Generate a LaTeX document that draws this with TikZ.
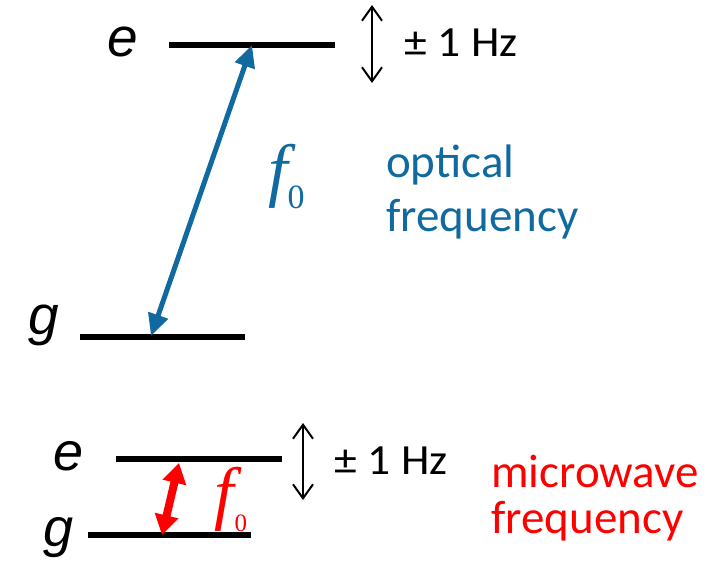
\documentclass[tikz,border=0pt]{standalone}
\usepackage{fontspec}
\setmainfont{Carlito}
\newfontfamily\arialfont{Liberation Sans}
\newfontfamily\serifont{Liberation Serif}
\usetikzlibrary{arrows.meta}
\definecolor{optblue}{RGB}{16,106,160}
\definecolor{mwred}{RGB}{255,0,0}
\newcommand{\hzlabel}{\scalebox{1.06}[1]{\fontsize{43}{43}\selectfont ±\hspace{10pt}1\hspace{10pt}Hz}}
\tikzset{
  level/.style={line width=6pt},
  statelbl/.style={inner sep=0pt, anchor=base, font=\arialfont\itshape\fontsize{55}{55}\selectfont},
  hzlbl/.style={inner sep=0pt, anchor=base west},
  spread/.style={line width=2pt, {Straight Barb[length=14pt,width=20pt]}-{Straight Barb[length=14pt,width=20pt]}},
  optarrow/.style={draw=optblue, line width=5pt, {Triangle[length=22pt,width=20pt]}-{Triangle[length=22pt,width=20pt]}},
  mwarrow/.style={draw=mwred, line width=8pt, {Triangle[length=20pt,width=23pt]}-{Triangle[length=20pt,width=23pt]}},
  bluetxt/.style={inner sep=0pt, anchor=base west, text=optblue, font=\fontsize{47}{47}\selectfont},
  redtxt/.style={inner sep=0pt, anchor=base west, text=mwred, font=\fontsize{47}{47}\selectfont},
  flbl/.style={inner sep=0pt, anchor=base west, font=\serifont},
}
\begin{document}
\begin{tikzpicture}[x=1pt,y=-1pt]
\useasboundingbox (0,0) rectangle (725,560);
% ---- optical ----
\coordinate (eTL) at (169,45);
\coordinate (eTR) at (335,45);
\coordinate (gTL) at (80,337);
\coordinate (gTR) at (245,337);
\draw[level] (eTL) -- (eTR);
\draw[level] (gTL) -- (gTR);
\node[statelbl] (eTop) at (123,56) {e};
\node[statelbl] (gTop) at (44,334) {g};
\coordinate (optUp) at (252,45);
\coordinate (optDn) at (151,336);
\draw[optarrow] (optDn) -- (optUp);
\node[flbl, text=optblue] (fTop) at (268,193)
  {\fontsize{70}{70}\selectfont\itshape f\upshape\raisebox{-15pt}{\fontsize{34}{34}\selectfont 0}};
\coordinate (sTopA) at (372,5);
\coordinate (sTopB) at (372,83);
\draw[spread] (sTopA) -- (sTopB);
\node[hzlbl] (hzTop) at (404,56) {\hzlabel};
\node[bluetxt] (opt1) at (386,177) {optical};
\node[bluetxt] (opt2) at (386,231) {frequency};
% ---- microwave ----
\coordinate (eBL) at (116,459);
\coordinate (eBR) at (282,459);
\coordinate (gBL) at (88,535);
\coordinate (gBR) at (251,535);
\draw[level] (eBL) -- (eBR);
\draw[level] (gBL) -- (gBR);
\node[statelbl,font=\arialfont\itshape\fontsize{54}{54}\selectfont] (eBot) at (69,470) {e};
\node[statelbl,font=\arialfont\itshape\fontsize{54}{54}\selectfont] (gBot) at (59,546) {g};
\coordinate (mwUp) at (179,463);
\coordinate (mwDn) at (162,535);
\draw[mwarrow] (mwDn) -- (mwUp);
\node[flbl, text=mwred] (fBot) at (214,516)
  {\fontsize{70}{70}\selectfont\itshape f\upshape\kern1pt\raisebox{-15pt}{\fontsize{25}{25}\selectfont 0}};
\coordinate (sBotA) at (303,423);
\coordinate (sBotB) at (303,500);
\draw[spread] (sBotA) -- (sBotB);
\node[hzlbl] (hzBot) at (334,474) {\hzlabel};
\node[redtxt] (mw1) at (491,487) {microwave};
\node[redtxt] (mw2) at (491,533) {frequency};
\end{tikzpicture}
\end{document}
